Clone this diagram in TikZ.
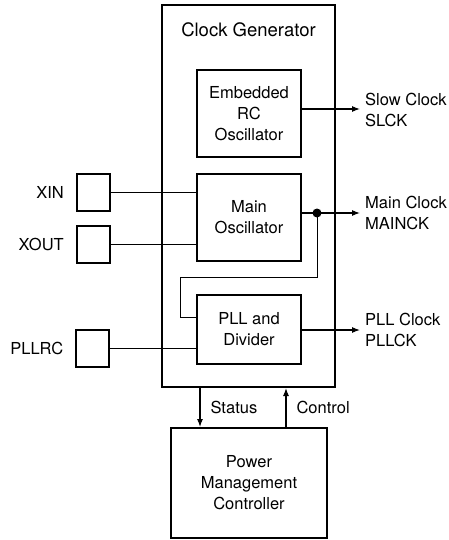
\documentclass[tikz,border=0pt]{standalone}
\usepackage{fontspec}
\setmainfont{TeX Gyre Heros}
\usetikzlibrary{arrows.meta,positioning,calc}

\begin{document}
\begin{tikzpicture}[x=1pt,y=-1pt,
    block/.style={draw,line width=2pt,align=center,inner sep=0pt,
        font=\fontsize{16.5}{21}\selectfont},
    pad/.style={draw,line width=2pt,minimum width=33pt,minimum height=37pt,inner sep=0pt},
    sigtext/.style={inner sep=0pt,align=left,font=\fontsize{16.5}{21}\selectfont},
    wire/.style={line width=1pt},
    sig/.style={line width=1.1pt,-{Latex[length=8pt,width=6pt]}}]
    \useasboundingbox (0,0) rectangle (449,540);

    \node[block,minimum width=173pt,minimum height=382pt] (clkgen) at (248.5,196) {};
    \node[font=\fontsize{18.5}{22}\selectfont] (cgtitle) at (248.5,30) {Clock Generator};

    \node[block,minimum width=104pt,minimum height=87pt] (rcosc)   at (249,113.5) {Embedded\\RC\\Oscillator};
    \node[block,minimum width=104pt,minimum height=87pt] (mainosc) at (249,217.5) {Main\\Oscillator};
    \node[block,minimum width=104pt,minimum height=69pt] (pll)     at (249,329.5) {PLL and\\Divider};
    \node[block,minimum width=156pt,minimum height=110pt] (pmc)    at (249,483) {Power\\Management\\Controller};

    \node[pad] (xin)   at (93.5,192.5) {};
    \node[pad] (xout)  at (93.5,244.5) {};
    \node[pad] (pllrc) at (92,348) {};

    \node[sigtext] (xinlbl)   [left=12pt of xin]   {XIN};
    \node[sigtext] (xoutlbl)  [left=12pt of xout]  {XOUT};
    \node[sigtext] (pllrclbl) [left=11pt of pllrc] {PLLRC};

    \foreach \Pad/\Block in {xin/mainosc, xout/mainosc, pllrc/pll}
        \draw[wire] (\Pad.east) -- (\Pad.east -| \Block.west);

    \coordinate (slowend) at (360,109);
    \coordinate (mainend) at (360,213);
    \coordinate (pllend)  at (360,330);
    \draw[sig] ([yshift=4pt]rcosc.east) -- (rcosc.east |- slowend) -- (slowend);
    \draw[sig] (mainosc.east |- mainend) -- (mainend);
    \draw[sig] (pll.east |- pllend) -- (pllend);

    \node[sigtext,anchor=west] (slowlbl) at (365,110) {Slow Clock\\SLCK};
    \node[sigtext,anchor=west] (mainlbl) at (365,213) {Main Clock\\MAINCK};
    \node[sigtext,anchor=west] (plllbl)  at (365,330) {PLL Clock\\PLLCK};

    \fill (317,213) circle (4.5pt) coordinate (fbdot);
    \draw[wire] (fbdot) -- (317,277) -- (180,277) -- (180,317) -- (pll.west |- 0,317);

    \draw[sig] (clkgen.south -| 200,0) -- node[sigtext,right=10pt] (statuslbl) {Status} (pmc.north -| 200,0);
    \draw[sig] (pmc.north -| 286,0) -- node[sigtext,right=10pt] (controllbl) {Control} (clkgen.south -| 286,0);
\end{tikzpicture}
\end{document}
